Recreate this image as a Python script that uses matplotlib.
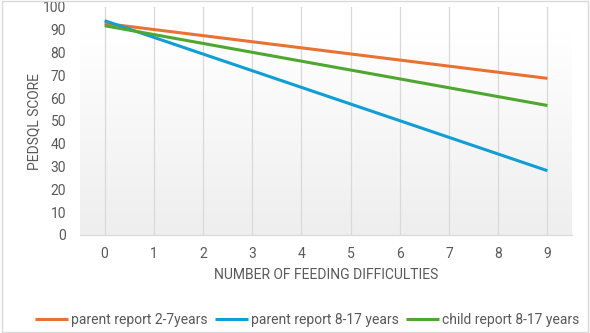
import matplotlib

matplotlib.use("Agg")
import matplotlib.pyplot as plt
import numpy as np

# ---- data ----------------------------------------------------------------
DIFFICULTIES = [0, 9]
PARENT_2_7 = [92.8, 68.7]
PARENT_8_17 = [94.0, 28.2]
CHILD_8_17 = [91.8, 56.8]
LABELS = ["parent report 2-7years", "parent report 8-17 years", "child report 8-17 years"]
COLORS = ["#E97132", "#0F9ED5", "#4EA72E"]

TXT = "#595959"
GRID = "#D9D9D9"

plt.rcParams["font.family"] = ["Roboto", "DejaVu Sans"]

fig = plt.figure(figsize=(5.9, 3.33), dpi=100, facecolor="white")
ax = fig.add_axes([80 / 590, 98 / 333, 492 / 590, 228 / 333])
ax.set_facecolor("none")
ax.set_xlim(-0.5, 9.5)
ax.set_ylim(0, 100)

# faint plot-area gradient (white at top -> light grey at bottom)
grad = np.linspace(1.0, 0.0, 256).reshape(-1, 1)
ax.imshow(grad, cmap=matplotlib.colors.LinearSegmentedColormap.from_list(
    "g", ["#EEEEEE", "#FFFFFF"]), extent=(-0.5, 9.5, 0, 88.6),
    aspect="auto", zorder=0, origin="upper")

for x in range(10):
    ax.axvline(x, color=GRID, lw=0.9, zorder=1)

for ys, lab, c in zip([PARENT_2_7, PARENT_8_17, CHILD_8_17], LABELS, COLORS):
    ax.plot(DIFFICULTIES, ys, color=c, lw=2.2, label=lab, zorder=3,
            solid_capstyle="butt")

for s in ["top", "right", "left"]:
    ax.spines[s].set_visible(False)
ax.spines["bottom"].set_color(GRID)
ax.spines["bottom"].set_linewidth(0.9)

ax.set_xticks(range(10))
ax.set_yticks(range(0, 101, 10))
ax.tick_params(length=0, labelsize=10, colors=TXT)
ax.tick_params(axis="x", pad=9)
ax.tick_params(axis="y", pad=10)
ax.set_xlabel("NUMBER OF FEEDING DIFFICULTIES", fontsize=10, color=TXT, labelpad=5)
ax.set_ylabel("PEDSQL SCORE", fontsize=10, color=TXT, labelpad=1)

fig.legend(loc="center", bbox_to_anchor=(307 / 590, 1 - 320 / 333), ncol=3,
           frameon=False, fontsize=10, labelcolor=TXT, handlelength=2.4,
           handletextpad=0.2, columnspacing=0.5)

# chart border
fig.add_artist(plt.Rectangle((0.004, 0.004), 0.992, 0.992, transform=fig.transFigure,
                             fill=False, edgecolor="#D9D9D9", lw=1))

fig.savefig("out.png", dpi=100)
